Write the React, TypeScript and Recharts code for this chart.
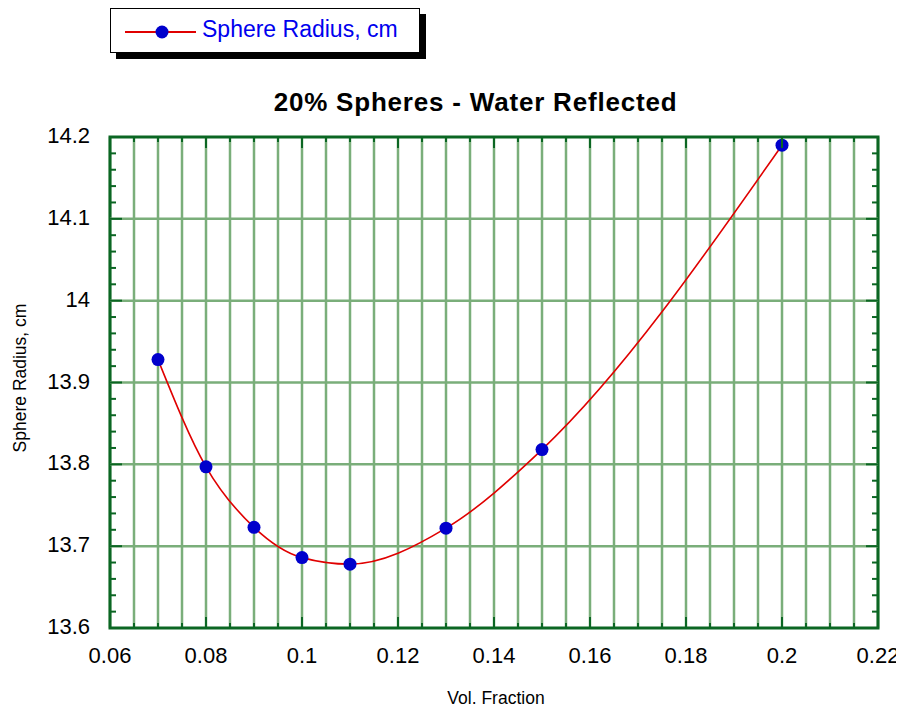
import React from "react";
import { LineChart, Line, XAxis, YAxis, CartesianGrid, ReferenceLine, ReferenceArea } from "recharts";

const volFraction = [0.07, 0.08, 0.09, 0.1, 0.11, 0.13, 0.15, 0.2];
const sphereRadius = [13.928, 13.797, 13.723, 13.686, 13.678, 13.722, 13.818, 14.19];

// x: minor ticks / vertical grid every 0.005, labels every 0.02
const xTicks = Array.from({ length: 33 }, (_, i) => Math.round((0.06 + i * 0.005) * 1000) / 1000);
const xLabels = [0.06, 0.08, 0.1, 0.12, 0.14, 0.16, 0.18, 0.2, 0.22];
// y: minor ticks every 0.02, labels + horizontal grid every 0.1
const yTicks = Array.from({ length: 31 }, (_, i) => Math.round((13.6 + i * 0.02) * 100) / 100);
const yLabels = [13.6, 13.7, 13.8, 13.9, 14, 14.1, 14.2];
const yGrid = [13.7, 13.8, 13.9, 14, 14.1];

const data = volFraction.map((v, i) => ({ x: v, r: sphereRadius[i] }));

const W = 896;
const H = 697;
const PLOT_W = 768;
const PLOT_H = 491;
const FRAME = "#0b6623";
const GRID = "#7aae7a";
const FONT = '"Liberation Sans", Arial, sans-serif';

const isIn = (v: number, list: number[]) => list.some((l) => Math.abs(l - v) < 1e-6);

function XTick(props: any) {
  const { x, y, payload } = props;
  const v = payload.value as number;
  const major = isIn(v, xLabels);
  const len = major ? 11 : 5;
  return (
    <g>
      <line x1={x} x2={x} y1={y} y2={y - len} stroke={FRAME} strokeWidth={2} />
      <line x1={x} x2={x} y1={y - PLOT_H} y2={y - PLOT_H + len} stroke={FRAME} strokeWidth={2} />
      {major && (
        <text x={x} y={y + 35} textAnchor="middle" fontSize={22} fontFamily={FONT} fill="#000">
          {String(v)}
        </text>
      )}
    </g>
  );
}

function YTick(props: any) {
  const { x, y, payload } = props;
  const v = payload.value as number;
  const major = isIn(v, yLabels);
  const len = major ? 12 : 6;
  return (
    <g>
      <line x1={x} x2={x + len} y1={y} y2={y} stroke={FRAME} strokeWidth={2} />
      <line x1={x + PLOT_W} x2={x + PLOT_W - len} y1={y} y2={y} stroke={FRAME} strokeWidth={2} />
      {major && (
        <text x={x - 20} y={y + 6} textAnchor="end" fontSize={22} fontFamily={FONT} fill="#000">
          {String(Number(v.toFixed(2)))}
        </text>
      )}
    </g>
  );
}

export default function App() {
  return (
    <div style={{ position: "relative", width: W, height: H, background: "#fff", fontFamily: FONT }}>
      <style>{".recharts-surface { overflow: visible; }"}</style>
      {/* legend box */}
      <div
        style={{
          position: "absolute",
          left: 102,
          top: 0,
          width: 308,
          height: 43,
          border: "1.5px solid #000",
          background: "#fff",
          boxShadow: "6px 6px 0 #000",
        }}
      >
        <svg width={100} height={43} style={{ position: "absolute", left: 0, top: 0 }}>
          <line x1={14} x2={85} y1={23} y2={23} stroke="#e00000" strokeWidth={2} />
          <circle cx={51} cy={23} r={6.5} fill="#0000cc" />
        </svg>
        <div style={{ position: "absolute", left: 91, top: 7, fontSize: 23, color: "#0000ee", whiteSpace: "nowrap" }}>
          Sphere Radius, cm
        </div>
      </div>

      <div
        style={{
          position: "absolute",
          left: 0,
          width: 935,
          top: 79,
          textAlign: "center",
          fontSize: 26,
          fontWeight: "bold",
          letterSpacing: 0.8,
          whiteSpace: "nowrap",
        }}
      >
        20% Spheres - Water Reflected
      </div>

      <div
        style={{
          position: "absolute",
          left: 12,
          top: 370,
          transform: "translate(-50%, -50%) rotate(-90deg)",
          fontSize: 17.5,
          whiteSpace: "nowrap",
        }}
      >
        Sphere Radius, cm
      </div>

      <div
        style={{
          position: "absolute",
          left: 488,
          top: 680,
          transform: "translateX(-50%)",
          fontSize: 17.5,
          lineHeight: "20px",
          whiteSpace: "nowrap",
        }}
      >
        Vol. Fraction
      </div>

      <LineChart width={W} height={H} data={data} margin={{ top: 129, right: 26, bottom: 47, left: 42 }}>
        <CartesianGrid vertical horizontal={false} stroke={GRID} strokeWidth={2.5} />
        {yGrid.map((g) => (
          <ReferenceLine key={g} y={g} stroke={GRID} strokeWidth={2.5} />
        ))}
        <XAxis
          dataKey="x"
          type="number"
          domain={[0.06, 0.22]}
          ticks={xTicks}
          interval={0}
          allowDataOverflow
          axisLine={false}
          tickLine={false}
          tickSize={0}
          tickMargin={0}
          height={30}
          tick={(p: any) => <XTick {...p} />}
        />
        <YAxis
          type="number"
          domain={[13.6, 14.2]}
          ticks={yTicks}
          interval={0}
          allowDataOverflow
          axisLine={false}
          tickLine={false}
          tickSize={0}
          tickMargin={0}
          width={60}
          tick={(p: any) => <YTick {...p} />}
        />
        <ReferenceArea x1={0.06} x2={0.22} y1={13.6} y2={14.2} fill="none" fillOpacity={0} stroke={FRAME} strokeWidth={3} />
        <Line
          dataKey="r"
          type="monotone"
          stroke="#e00000"
          strokeWidth={1.6}
          dot={{ r: 6.5, fill: "#0000cc", stroke: "none" }}
          isAnimationActive={false}
        />
      </LineChart>
    </div>
  );
}
